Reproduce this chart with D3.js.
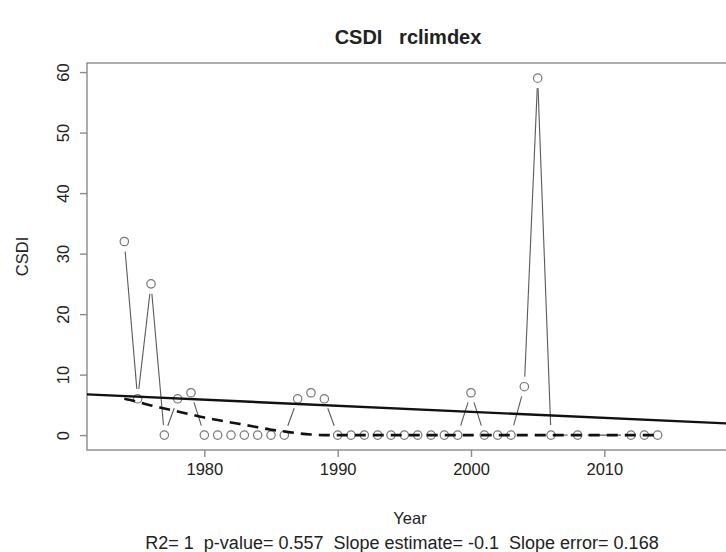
<!DOCTYPE html>
<html>
<head>
<meta charset="utf-8">
<script src="https://cdn.jsdelivr.net/npm/d3@7/dist/d3.min.js"></script>
<style>
  html, body { margin: 0; padding: 0; background: #fff; }
  svg { display: block; }
  text { font-family: "Liberation Sans", Arial, sans-serif; fill: #222; }
</style>
</head>
<body>
<svg id="chart" width="726" height="552"></svg>
<script>
// ---- data ----
const years = [1974,1975,1976,1977,1978,1979,1980,1981,1982,1983,1984,1985,1986,1987,1988,1989,1990,1991,1992,1993,1994,1995,1996,1997,1998,1999,2000,2001,2002,2003,2004,2005,2006,2008,2012,2013,2014];
const csdi  = [32,6,25,0,6,7,0,0,0,0,0,0,0,6,7,6,0,0,0,0,0,0,0,0,0,0,7,0,0,0,8,59,0,0,0,0,0];
const smooth = [6.0,5.5,4.9,4.4,3.9,3.4,2.9,2.5,2.1,1.7,1.3,0.9,0.6,0.3,0.1,0,0,0,0,0,0,0,0,0,0,0,0,0,0,0,0,0,0,0,0,0,0];
const trendYears = [1970, 2020];
const trendValues = [6.85, 1.85];
const xTicks = [1980, 1990, 2000, 2010];
const yTicks = [0, 10, 20, 30, 40, 50, 60];
const titleText = "CSDI   rclimdex";
const xLabel = "Year";
const yLabel = "CSDI";
const statsText = "R2= 1  p-value= 0.557  Slope estimate= -0.1  Slope error= 0.168";

// ---- layout ----
const L = 87, T = 63, R = 729, B = 450;
const svg = d3.select("#chart");
const x = d3.scaleLinear().domain([1971.2, 2019.35]).range([L, R]);
const y = d3.scaleLinear().domain([-2.46, 61.5]).range([B, T]);

svg.append("defs").append("clipPath").attr("id", "clip")
  .append("rect").attr("x", L).attr("y", T).attr("width", R - L).attr("height", B - T);

const axisColor = "#8a8a8a";

// box
svg.append("rect").attr("x", L).attr("y", T).attr("width", R - L).attr("height", B - T)
  .attr("fill", "none").attr("stroke", axisColor).attr("stroke-width", 1.4);

// x axis
const xAxis = d3.axisBottom(x).tickValues(xTicks).tickFormat(d3.format("d")).tickSize(7).tickPadding(6);
const gx = svg.append("g").attr("transform", `translate(0,${B})`).call(xAxis);
gx.select(".domain").remove();
gx.selectAll(".tick line").attr("stroke", axisColor).attr("stroke-width", 1.4);
gx.selectAll(".tick text").style("font-size", "16.5px").attr("fill", "#222");

// y axis (rotated labels like R)
const yAxis = d3.axisLeft(y).tickValues(yTicks).tickSize(7).tickFormat(d3.format("d"));
const gy = svg.append("g").attr("transform", `translate(${L},0)`).call(yAxis);
gy.select(".domain").remove();
gy.selectAll(".tick line").attr("stroke", axisColor).attr("stroke-width", 1.4);
gy.selectAll(".tick text")
  .style("font-size", "16.5px").attr("fill", "#222")
  .attr("x", null).attr("dy", null)
  .attr("text-anchor", "middle")
  .attr("transform", "translate(-24,0) rotate(-90)")
  .attr("dominant-baseline", "central");

// titles
svg.append("text").attr("x", 408).attr("y", 44).attr("text-anchor", "middle")
  .style("font-size", "20px").style("font-weight", "bold").style("white-space", "pre")
  .attr("xml:space", "preserve").text(titleText);
svg.append("text").attr("x", 410).attr("y", 524).attr("text-anchor", "middle")
  .style("font-size", "16.5px").text(xLabel);
svg.append("text").attr("x", 402).attr("y", 549).attr("text-anchor", "middle")
  .style("font-size", "18px").style("white-space", "pre").attr("xml:space", "preserve").text(statsText);
svg.append("text").attr("transform", `translate(28,${(T + B) / 2}) rotate(-90)`)
  .attr("text-anchor", "middle").style("font-size", "16.5px").text(yLabel);

const plot = svg.append("g").attr("clip-path", "url(#clip)");

// type "b" line segments with gaps
const pts = years.map((yr, i) => [x(yr), y(csdi[i])]);
const gap = 10;
const segs = [];
for (let i = 0; i < pts.length - 1; i++) {
  const [x0, y0] = pts[i], [x1, y1] = pts[i + 1];
  const d = Math.hypot(x1 - x0, y1 - y0);
  if (d > 2 * gap) {
    const ux = (x1 - x0) / d, uy = (y1 - y0) / d;
    segs.push([x0 + ux * gap, y0 + uy * gap, x1 - ux * gap, y1 - uy * gap]);
  }
}
plot.selectAll("line.seg").data(segs).enter().append("line").attr("class", "seg")
  .attr("x1", d => d[0]).attr("y1", d => d[1]).attr("x2", d => d[2]).attr("y2", d => d[3])
  .attr("stroke", "#5a5a5a").attr("stroke-width", 1.1);

plot.selectAll("circle.pt").data(years).enter().append("circle").attr("class", "pt")
  .attr("cx", d => x(d)).attr("cy", (d, i) => y(csdi[i])).attr("r", 4.2)
  .attr("fill", "none").attr("stroke", "#777").attr("stroke-width", 1.2);

// smoothed (dashed) curve
const line = d3.line().x(d => x(d[0])).y(d => y(d[1])).curve(d3.curveMonotoneX);
plot.append("path").datum(years.map((yr, i) => [yr, smooth[i]]))
  .attr("d", line).attr("fill", "none").attr("stroke", "#111")
  .attr("stroke-width", 2.6).attr("stroke-dasharray", "11,7");

// linear trend
plot.append("path").datum(trendYears.map((yr, i) => [yr, trendValues[i]]))
  .attr("d", d3.line().x(d => x(d[0])).y(d => y(d[1])))
  .attr("fill", "none").attr("stroke", "#111").attr("stroke-width", 2.4);
</script>
</body>
</html>
